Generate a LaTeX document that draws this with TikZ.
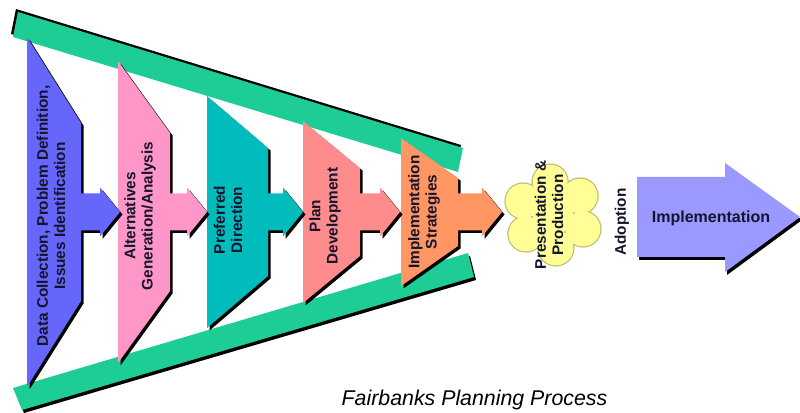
\documentclass[tikz,border=0pt]{standalone}
\usepackage{fontspec}
\setmainfont{Liberation Sans}
\definecolor{stepblue}{RGB}{102,102,250}
\definecolor{steppink}{RGB}{255,150,200}
\definecolor{stepteal}{RGB}{0,188,188}
\definecolor{stepsalmon}{RGB}{255,140,140}
\definecolor{steporange}{RGB}{255,150,100}
\definecolor{bandgreen}{RGB}{30,204,150}
\definecolor{petalyellow}{RGB}{255,255,150}
\definecolor{petaledge}{RGB}{190,190,110}
\definecolor{implblue}{RGB}{153,153,255}
\definecolor{labelink}{RGB}{20,20,45}

\begin{document}
\begin{tikzpicture}[
    x=0.75pt, y=-0.75pt,
    lbl/.style={font=\fontsize{11.5}{13}\selectfont\bfseries, text=labelink, rotate=90, align=center, inner sep=0pt},
    petal/.style={draw=petaledge, line width=1pt, fill=petalyellow}
]
\useasboundingbox (0,0) rectangle (800,413);

% funnel sides
\fill[black, shift={(-2,-3)}] (18,12) -- (463,148) -- (458,172) -- (13,37) -- cycle;
\fill[bandgreen] (18,12) -- (463,148) -- (458,172) -- (13,37) -- cycle;
\fill[black, shift={(2,3)}] (13,388) -- (468,253) -- (474,277) -- (22,410) -- cycle;
\fill[bandgreen] (13,388) -- (468,253) -- (474,277) -- (22,410) -- cycle;

% funnel steps, right to left so each arrow tip lies on the next step
\foreach \L/\R/\H/\h/\T/\col in {401/458/74/34/502/steporange, 303/360/91/44/400/stepsalmon,
    207/268/116/64/303/stepteal, 118/170/151/79/207/steppink, 27/81/175/89/120/stepblue}{
  \fill[black, shift={(2.5,2.5)}] (\L,212-\H) -- (\R,212-\h) -- (\R,193.5) -- (\T-20,193.5) -- (\T-20,187.5)
    -- (\T,212) -- (\T-20,236.5) -- (\T-20,230.5) -- (\R,230.5) -- (\R,212+\h) -- (\L,212+\H) -- cycle;
  \fill[\col] (\L,212-\H) -- (\R,212-\h) -- (\R,193.5) -- (\T-20,193.5) -- (\T-20,187.5)
    -- (\T,212) -- (\T-20,236.5) -- (\T-20,230.5) -- (\R,230.5) -- (\R,212+\h) -- (\L,212+\H) -- cycle;
}

\node[lbl] (datacoll) at (51,216) {Data Collection, Problem Definition,\\Issues Identification};
\node[lbl] (altgen) at (140,216) {Alternatives\\Generation/Analysis};
\node[lbl] (prefdir) at (228,220) {Preferred\\Direction};
\node[lbl] (plandev) at (325,216) {Plan\\Development};
\node[lbl] (implstrat) at (424,212) {Implementation\\Strategies};

% flower
\begin{scope}[shift={(553,215)}]
  \foreach \a in {-95,-35,25,85,145,-155}
    \draw[petal] (\a:33) circle (18);
  \fill[petalyellow] (0,0) circle (20);
  \foreach \a in {-95,-35,25,85,145,-155}
    \fill[petalyellow] (\a:33) circle (17.4);
\end{scope}
\node[lbl] (presprod) at (549,215) {Presentation \&\\Production};

\node[lbl] (adopt) at (622,222) {Adoption};

% implementation arrow
\fill[black, shift={(2,3)}] (637,177) -- (725,177) -- (725,163) -- (800,217) -- (725,272) -- (725,257) -- (637,257) -- cycle;
\fill[implblue] (637,177) -- (725,177) -- (725,163) -- (800,217) -- (725,272) -- (725,257) -- (637,257) -- cycle;
\node[font=\fontsize{12}{14}\selectfont\bfseries, text=labelink] (impl) at (711,218) {Implementation};

\node[anchor=base west, font=\fontsize{16}{18}\selectfont\itshape] (caption) at (337,406) {Fairbanks Planning Process};
\end{tikzpicture}
\end{document}
